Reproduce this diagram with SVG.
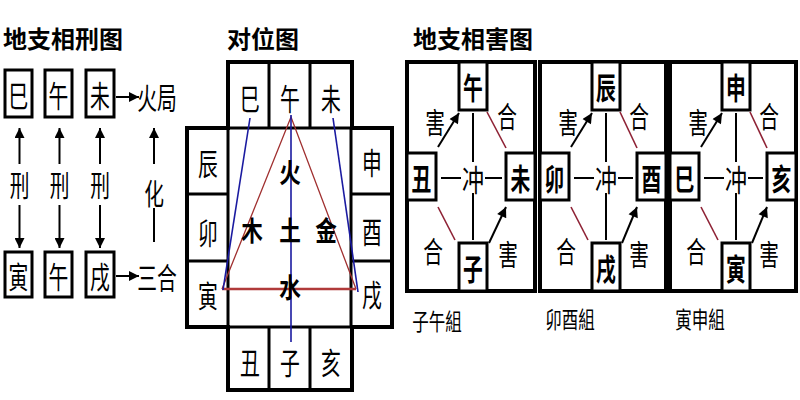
<svg xmlns="http://www.w3.org/2000/svg" width="800" height="400" viewBox="0 0 800 400">
<style>
text { font-family: "Noto Sans CJK SC", "Noto Sans CJK TC", sans-serif; fill: #000; text-anchor: middle; dominant-baseline: central; }
.t { font-size: 24px; font-weight: bold; text-anchor: start; }
.c { font-size: 30px; transform-box: fill-box; transform-origin: center; transform: scaleX(0.66); }
.cb { font-size: 30px; font-weight: bold; transform-box: fill-box; transform-origin: center; transform: scaleX(0.66); }
.k { font-size: 30px; transform-box: fill-box; transform-origin: center; transform: scaleX(0.74); }
.m { font-size: 27px; font-weight: bold; transform-box: fill-box; transform-origin: center; transform: scaleX(0.8); }
.s { font-size: 29px; transform-box: fill-box; transform-origin: center; transform: scaleX(0.68); }
.l { font-size: 23px; transform-box: fill-box; transform-origin: center; transform: scaleX(0.72); }
.box { fill: #fff; stroke: #000; stroke-width: 3; }
.frame { fill: #fff; stroke: #000; stroke-width: 4; }
.ln { stroke: #000; stroke-width: 3; fill: none; }
.thin { stroke: #000; stroke-width: 2; fill: none; }
.arr { stroke: #000; stroke-width: 2; fill: none; marker-end: url(#ah); }
.red { stroke: #8e2235; stroke-width: 1.6; fill: none; }
.blue { stroke: #1a1aa0; stroke-width: 1.6; fill: none; }
.tri { stroke: #a03030; stroke-width: 1.3; fill: none; }
</style>
<defs>
<marker id="ah" viewBox="0 0 10 10" refX="10" refY="5" markerWidth="12" markerHeight="10" markerUnits="userSpaceOnUse" orient="auto">
<path d="M0,0 L10,5 L0,10 z" fill="#000"/>
</marker>
</defs>
<rect width="800" height="400" fill="#fff"/>

<!-- Left: 地支相刑图 -->
<text class="t" x="3" y="37">地支相刑图</text>
<g id="xing-si"><rect class="box" x="5" y="70" width="27" height="47"/><text class="c" x="18.5" y="94">巳</text></g>
<g id="xing-wu1"><rect class="box" x="45" y="70" width="27" height="47"/><text class="c" x="58.5" y="94">午</text></g>
<g id="xing-wei"><rect class="box" x="86" y="70" width="28" height="47"/><text class="c" x="100" y="94">未</text></g>
<g id="xing-yin"><rect class="box" x="5" y="252" width="27" height="45"/><text class="c" x="18.5" y="275">寅</text></g>
<g id="xing-wu2"><rect class="box" x="45" y="252" width="27" height="45"/><text class="c" x="58.5" y="275">午</text></g>
<g id="xing-xu"><rect class="box" x="86" y="252" width="28" height="45"/><text class="c" x="100" y="275">戌</text></g>
<g id="xing-huoju"><text class="c" x="157" y="96">火局</text></g>
<g id="xing-sanhe"><text class="c" x="157" y="276">三合</text></g>
<g id="xing-labels">
<text class="s" x="19.5" y="184">刑</text>
<text class="s" x="59.5" y="184">刑</text>
<text class="s" x="100" y="184">刑</text>
<text class="s" x="154" y="192">化</text>
</g>
<g id="xing-connectors">
<line class="arr" x1="116" y1="97" x2="139" y2="97"/>
<line class="arr" x1="116" y1="276" x2="139" y2="276"/>
<line class="arr" x1="19.5" y1="164" x2="19.5" y2="128"/>
<line class="arr" x1="19.5" y1="205" x2="19.5" y2="248"/>
<line class="arr" x1="59.5" y1="164" x2="59.5" y2="128"/>
<line class="arr" x1="59.5" y1="205" x2="59.5" y2="248"/>
<line class="arr" x1="100" y1="164" x2="100" y2="128"/>
<line class="arr" x1="100" y1="205" x2="100" y2="248"/>
<line class="arr" x1="154" y1="164" x2="154" y2="128"/>
<line class="thin" x1="154" y1="208" x2="154" y2="242"/>
</g>

<!-- Middle: 对位图 -->
<text class="t" x="227" y="37">对位图</text>
<g id="dui-grid">
<path class="frame" d="M228,62 H352 V128 H392 V327 H352 V390 H228 V327 H187 V128 H228 Z"/>
<path class="ln" d="M269,62 V128 M310,62 V128 M269,327 V390 M310,327 V390 M187,128 H392 M187,327 H392 M228,128 V327 M351,128 V327 M187,194 H228 M187,261 H228 M351,194 H392 M351,261 H392"/>
</g>
<g id="dui-lines">
<path class="tri" d="M222,289 L291,117 L356,289"/>
<line x1="222" y1="289" x2="356" y2="289" stroke="#b03a3a" stroke-width="2.5"/>
<line class="blue" x1="250" y1="118" x2="223" y2="290"/>
<line class="blue" x1="333" y1="118" x2="358" y2="292"/>
<line class="blue" x1="291" y1="115" x2="291" y2="342"/>
</g>
<g id="dui-si"><text class="c" x="250" y="97">巳</text></g>
<g id="dui-wu"><text class="c" x="290" y="97">午</text></g>
<g id="dui-wei"><text class="c" x="331" y="97">未</text></g>
<g id="dui-chen"><text class="c" x="208" y="162">辰</text></g>
<g id="dui-mao"><text class="c" x="208" y="231">卯</text></g>
<g id="dui-yin"><text class="c" x="208" y="294">寅</text></g>
<g id="dui-shen"><text class="c" x="372" y="161">申</text></g>
<g id="dui-you"><text class="c" x="372" y="230">酉</text></g>
<g id="dui-xu"><text class="c" x="372" y="293">戌</text></g>
<g id="dui-chou"><text class="c" x="250" y="361">丑</text></g>
<g id="dui-zi"><text class="c" x="290" y="361">子</text></g>
<g id="dui-hai"><text class="c" x="331" y="361">亥</text></g>
<g id="dui-center">
<text class="m" x="290" y="171">火</text>
<text class="m" x="252" y="229">木</text>
<text class="m" x="290" y="229">土</text>
<text class="m" x="326" y="229">金</text>
<text class="m" x="290" y="286">水</text>
</g>

<!-- Right: 地支相害图 -->
<text class="t" x="413" y="37">地支相害图</text>

<g id="hai-ziwu" transform="translate(407,62)">
<rect class="frame" x="0" y="0" width="128" height="229"/>
<g id="ziwu-wu"><rect class="box" x="52" y="0" width="28" height="48"/><text class="cb" x="66" y="24">午</text></g>
<g id="ziwu-chou"><rect class="box" x="0" y="91" width="29" height="47"/><text class="cb" x="14.5" y="115">丑</text></g>
<g id="ziwu-wei"><rect class="box" x="99" y="91" width="29" height="47"/><text class="cb" x="113.5" y="115">未</text></g>
<g id="ziwu-zi"><rect class="box" x="52" y="181" width="28" height="48"/><text class="cb" x="66" y="205">子</text></g>
<g class="conn">
<path class="thin" d="M34,116 H54 M78,116 H95 M66,51 V100 M66,131 V178"/>
<line class="arr" x1="31" y1="85" x2="52" y2="51"/>
<line class="arr" x1="82" y1="181" x2="99" y2="145"/>
<line class="red" x1="80" y1="50" x2="99" y2="86"/>
<line class="red" x1="31" y1="145" x2="48" y2="178"/>
</g>
<text class="k" x="66" y="116">冲</text>
<text class="s" x="28" y="59">害</text>
<text class="s" x="100" y="53">合</text>
<text class="s" x="26" y="188">合</text>
<text class="s" x="101" y="191">害</text>
</g>
<text class="l" x="437" y="320">子午組</text>

<g id="hai-maoyou" transform="translate(540,62)">
<rect class="frame" x="0" y="0" width="126" height="229"/>
<g id="maoyou-chen"><rect class="box" x="52" y="0" width="28" height="48"/><text class="cb" x="66" y="24">辰</text></g>
<g id="maoyou-mao"><rect class="box" x="0" y="91" width="29" height="47"/><text class="cb" x="14.5" y="115">卯</text></g>
<g id="maoyou-you"><rect class="box" x="97" y="91" width="29" height="47"/><text class="cb" x="111.5" y="115">酉</text></g>
<g id="maoyou-xu"><rect class="box" x="52" y="181" width="28" height="48"/><text class="cb" x="66" y="205">戌</text></g>
<g class="conn">
<path class="thin" d="M34,116 H54 M78,116 H93 M66,51 V100 M66,131 V178"/>
<line class="arr" x1="31" y1="85" x2="52" y2="51"/>
<line class="arr" x1="82" y1="181" x2="97" y2="145"/>
<line class="red" x1="80" y1="50" x2="97" y2="86"/>
<line class="red" x1="31" y1="145" x2="48" y2="178"/>
</g>
<text class="k" x="66" y="116">冲</text>
<text class="s" x="28" y="59">害</text>
<text class="s" x="99" y="53">合</text>
<text class="s" x="26" y="188">合</text>
<text class="s" x="99" y="191">害</text>
</g>
<text class="l" x="570" y="318">卯酉組</text>

<g id="hai-yinshen" transform="translate(670,62)">
<rect class="frame" x="0" y="0" width="126" height="229"/>
<g id="yinshen-shen"><rect class="box" x="52" y="0" width="28" height="48"/><text class="cb" x="66" y="24">申</text></g>
<g id="yinshen-si"><rect class="box" x="0" y="91" width="29" height="47"/><text class="cb" x="14.5" y="115">巳</text></g>
<g id="yinshen-hai"><rect class="box" x="97" y="91" width="29" height="47"/><text class="cb" x="111.5" y="115">亥</text></g>
<g id="yinshen-yin"><rect class="box" x="52" y="181" width="28" height="48"/><text class="cb" x="66" y="205">寅</text></g>
<g class="conn">
<path class="thin" d="M34,116 H54 M78,116 H93 M66,51 V100 M66,131 V178"/>
<line class="arr" x1="31" y1="85" x2="52" y2="51"/>
<line class="arr" x1="82" y1="181" x2="97" y2="145"/>
<line class="red" x1="80" y1="50" x2="97" y2="86"/>
<line class="red" x1="31" y1="145" x2="48" y2="178"/>
</g>
<text class="k" x="66" y="116">冲</text>
<text class="s" x="28" y="59">害</text>
<text class="s" x="99" y="53">合</text>
<text class="s" x="26" y="188">合</text>
<text class="s" x="99" y="191">害</text>
</g>
<text class="l" x="700" y="318">寅申組</text>
</svg>
